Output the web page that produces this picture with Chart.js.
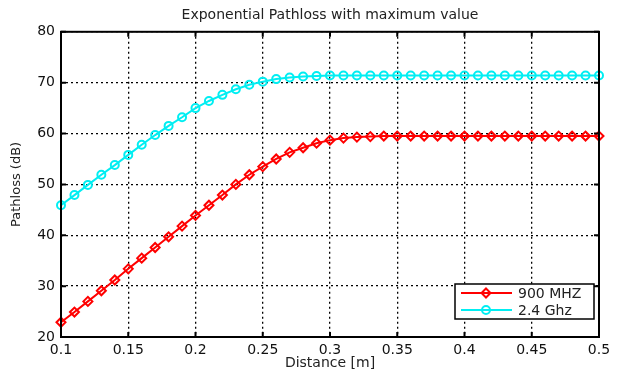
<!DOCTYPE html>
<html>
<head>
<meta charset="utf-8">
<script src="https://cdn.jsdelivr.net/npm/chart.js@4.4.1/dist/chart.umd.min.js"></script>
<style>
  html, body { margin: 0; padding: 0; background: #fff; }
  #wrap { width: 617px; height: 372px; }
</style>
</head>
<body>
<div id="wrap"><canvas id="c" width="617" height="372"></canvas></div>
<script>
// distance in metres, one point every 0.01 m
var distance = [0.10, 0.11, 0.12, 0.13, 0.14, 0.15, 0.16, 0.17, 0.18, 0.19,
                0.20, 0.21, 0.22, 0.23, 0.24, 0.25, 0.26, 0.27, 0.28, 0.29,
                0.30, 0.31, 0.32, 0.33, 0.34, 0.35, 0.36, 0.37, 0.38, 0.39,
                0.40, 0.41, 0.42, 0.43, 0.44, 0.45, 0.46, 0.47, 0.48, 0.49, 0.50];

// pathloss (dB)
var loss900 = [22.9, 24.9, 27.0, 29.1, 31.2, 33.4, 35.5, 37.6, 39.7, 41.8,
               43.9, 45.9, 47.9, 50.0, 51.9, 53.5, 55.0, 56.3, 57.2, 58.1,
               58.7, 59.1, 59.3, 59.4, 59.5, 59.5, 59.5, 59.5, 59.5, 59.5,
               59.5, 59.5, 59.5, 59.5, 59.5, 59.5, 59.5, 59.5, 59.5, 59.5, 59.5];
var loss24 = [45.9, 47.9, 49.9, 51.9, 53.8, 55.8, 57.8, 59.7, 61.5, 63.2,
              65.0, 66.4, 67.6, 68.7, 69.6, 70.2, 70.7, 71.0, 71.2, 71.3,
              71.4, 71.4, 71.4, 71.4, 71.4, 71.4, 71.4, 71.4, 71.4, 71.4,
              71.4, 71.4, 71.4, 71.4, 71.4, 71.4, 71.4, 71.4, 71.4, 71.4, 71.4];

var xTicks = [0.1, 0.15, 0.2, 0.25, 0.3, 0.35, 0.4, 0.45, 0.5];
var xTickLabels = ['0.1', '0.15', '0.2', '0.25', '0.3', '0.35', '0.4', '0.45', '0.5'];
var yTicks = [20, 30, 40, 50, 60, 70, 80];
var seriesNames = ['900 MHZ', '2.4 Ghz'];

var FONT = 'DejaVu Sans';
var RED = '#ff0000';
var CYAN = '#00eef2';

function pts(ys) {
  return distance.map(function (d, i) { return { x: d, y: ys[i] }; });
}

// matlab style box, inner ticks and legend
var boxPlugin = {
  id: 'box',
  afterDatasetsDraw: function (chart) {
    var ctx = chart.ctx, a = chart.chartArea;
    var sx = chart.scales.x, sy = chart.scales.y;
    ctx.save();
    ctx.strokeStyle = '#000';
    ctx.lineWidth = 2;
    ctx.setLineDash([]);
    ctx.strokeRect(a.left, a.top, a.right - a.left, a.bottom - a.top);
    ctx.beginPath();
    xTicks.forEach(function (v) {
      var px = sx.getPixelForValue(v);
      ctx.moveTo(px, a.bottom); ctx.lineTo(px, a.bottom - 5);
      ctx.moveTo(px, a.top); ctx.lineTo(px, a.top + 5);
    });
    yTicks.forEach(function (v) {
      var py = sy.getPixelForValue(v);
      ctx.moveTo(a.left, py); ctx.lineTo(a.left + 5, py);
      ctx.moveTo(a.right, py); ctx.lineTo(a.right - 5, py);
    });
    ctx.stroke();

    // legend
    var bx = a.right - 144, by = a.bottom - 53, bw = 139, bh = 35;
    ctx.fillStyle = '#fff';
    ctx.fillRect(bx, by, bw, bh);
    ctx.lineWidth = 1.5;
    ctx.strokeRect(bx, by, bw, bh);
    ctx.font = '14px "' + FONT + '"';
    ctx.textBaseline = 'middle';
    chart.data.datasets.forEach(function (ds, i) {
      var ly = by + 9 + i * 17;
      ctx.strokeStyle = ds.borderColor;
      ctx.lineWidth = 2;
      ctx.beginPath();
      ctx.moveTo(bx + 6, ly); ctx.lineTo(bx + 57, ly);
      ctx.stroke();
      ctx.beginPath();
      var cx = bx + 31;
      if (ds.pointStyle === 'rectRot') {
        ctx.moveTo(cx, ly - 4.5); ctx.lineTo(cx + 4.5, ly);
        ctx.lineTo(cx, ly + 4.5); ctx.lineTo(cx - 4.5, ly); ctx.closePath();
      } else {
        ctx.arc(cx, ly, 4, 0, Math.PI * 2);
      }
      ctx.stroke();
      ctx.fillStyle = '#222';
      ctx.fillText(ds.label, bx + 63, ly + 1);
    });
    ctx.restore();
  }
};

new Chart(document.getElementById('c'), {
  type: 'line',
  data: {
    datasets: [{
      label: seriesNames[0],
      data: pts(loss900),
      borderColor: RED,
      backgroundColor: 'rgba(0,0,0,0)',
      borderWidth: 2,
      pointStyle: 'rectRot',
      pointRadius: 4.5,
      pointBorderWidth: 2,
      pointBackgroundColor: 'rgba(0,0,0,0)',
      clip: false
    }, {
      label: seriesNames[1],
      data: pts(loss24),
      borderColor: CYAN,
      backgroundColor: 'rgba(0,0,0,0)',
      borderWidth: 2,
      pointStyle: 'circle',
      pointRadius: 4,
      pointBorderWidth: 2,
      pointBackgroundColor: 'rgba(0,0,0,0)',
      clip: false
    }]
  },
  options: {
    responsive: false,
    animation: false,
    layout: { padding: { left: 0, right: 18, top: 0, bottom: 0 } },
    plugins: {
      legend: { display: false },
      tooltip: { enabled: false },
      title: {
        display: true,
        text: 'Exponential Pathloss with maximum value',
        fullSize: false,
        color: '#222',
        font: { family: FONT, size: 14, weight: 'normal' },
        padding: { top: 7, bottom: 8 }
      }
    },
    scales: {
      x: {
        type: 'linear',
        min: 0.1,
        max: 0.5,
        afterBuildTicks: function (s) { s.ticks = xTicks.map(function (v) { return { value: v }; }); },
        afterFit: function (s) { s.height = 35; },
        ticks: {
          color: '#111',
          font: { family: FONT, size: 14 },
          padding: 5,
          maxRotation: 0,
          callback: function (v, i) { return xTickLabels[i]; }
        },
        grid: { color: '#000', lineWidth: 1.3, drawTicks: false },
        border: { display: false, dash: [2, 3] },
        title: {
          display: true,
          text: 'Distance [m]',
          color: '#222',
          font: { family: FONT, size: 14 },
          padding: { top: 0, bottom: 0 }
        }
      },
      y: {
        min: 20,
        max: 80,
        afterBuildTicks: function (s) { s.ticks = yTicks.map(function (v) { return { value: v }; }); },
        afterFit: function (s) { s.width = 61; },
        ticks: {
          color: '#111',
          font: { family: FONT, size: 14 },
          padding: 6
        },
        grid: { color: '#000', lineWidth: 1.3, drawTicks: false },
        border: { display: false, dash: [2, 3] },
        title: {
          display: true,
          text: 'Pathloss (dB)',
          color: '#222',
          font: { family: FONT, size: 13 },
          padding: { top: 9, bottom: 0 }
        }
      }
    }
  },
  plugins: [boxPlugin]
});
</script>
</body>
</html>
